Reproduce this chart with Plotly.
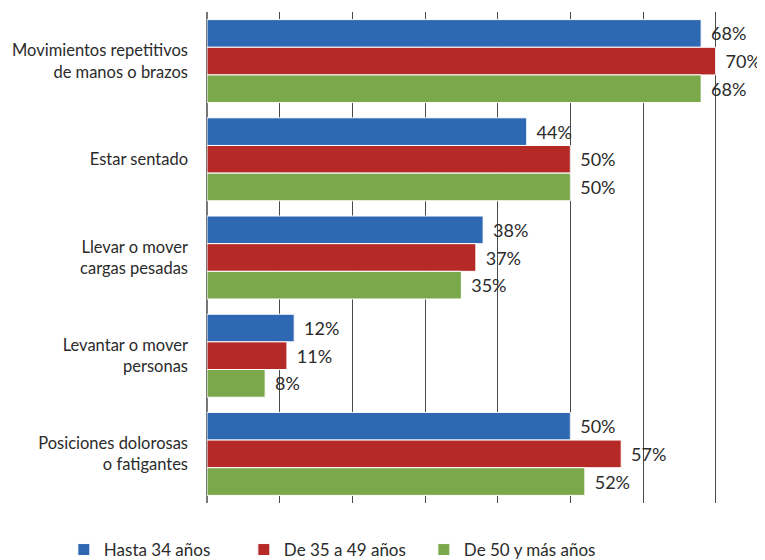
import plotly.graph_objects as go

categories = [
    "Movimientos repetitivos<br>de manos o brazos",
    "Estar sentado",
    "Llevar o mover<br>cargas pesadas",
    "Levantar o mover<br>personas",
    "Posiciones dolorosas<br>o fatigantes",
]
series_names = ["Hasta 34 años", "De 35 a 49 años", "De 50 y más años"]
hasta_34 = [68, 44, 38, 12, 50]
de_35_49 = [70, 50, 37, 11, 57]
de_50_mas = [68, 50, 35, 8, 52]
colors = ["#2E67B2", "#B52A27", "#7BA84A"]

FONT = "Lato"
TXT = "#2b2b2b"

fig = go.Figure()
for name, vals, col in zip(series_names, [hasta_34, de_35_49, de_50_mas], colors):
    fig.add_trace(go.Bar(
        y=categories, x=vals, name=name, orientation="h",
        marker=dict(color=col, line=dict(color="white", width=1)),
        text=[f"\u00a0\u2009{v}%" for v in vals],
        textposition="outside", cliponaxis=False, constraintext="none",
        textfont=dict(family=FONT, size=18, color=TXT),
    ))

fig.update_layout(
    width=765, height=560,
    barmode="group", bargap=0.155, bargroupgap=0.0,
    plot_bgcolor="white", paper_bgcolor="white",
    margin=dict(l=199, r=21, t=4, b=65, autoexpand=False),
    font=dict(family=FONT, size=16.5, color=TXT),
    xaxis=dict(range=[0, 75], dtick=10, showticklabels=False,
               showgrid=True, gridcolor="#4a4a4a", gridwidth=1.3,
               zeroline=True, zerolinecolor="#777777", zerolinewidth=2,
               showline=False, fixedrange=True, automargin=False),
    yaxis=dict(autorange="reversed", ticks="", showline=False, automargin=False,
               ticklabelstandoff=18, tickfont=dict(family=FONT, size=16.5, color=TXT)),
    legend=dict(orientation="h", xref="container", yref="container",
                x=0.073, y=0.0, xanchor="left", yanchor="bottom",
                entrywidth=135, entrywidthmode="pixels",
                font=dict(family=FONT, size=17, color=TXT), traceorder="normal"),
    showlegend=True,
)

fig.write_html("out.html")
